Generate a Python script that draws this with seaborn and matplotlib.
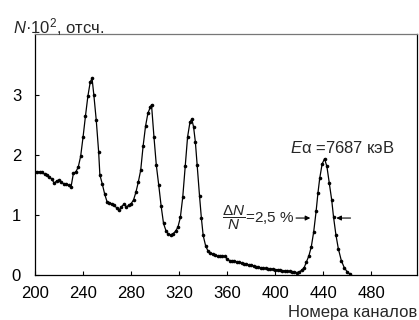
import matplotlib
matplotlib.use("Agg")
import matplotlib.pyplot as plt
import seaborn as sns
import pandas as pd

channels = [200, 202, 204, 206, 208, 210, 212, 214, 216, 218, 220, 222, 224, 226, 228, 230,
            232, 234, 236, 238, 240, 242, 244, 246, 247.5, 249, 251, 253, 254, 256, 258, 260,
            262, 264, 266, 268, 270, 272, 274, 276, 278, 280, 282, 284, 286, 288, 290, 292,
            294, 296, 297, 299, 301, 303, 305, 307, 309, 311, 313, 315, 317, 319, 321, 323,
            325, 327, 329, 330.5, 332, 333.5, 335, 337, 338.5, 340, 342, 344, 346, 348, 350,
            352, 354, 356, 358, 360, 362, 364, 366, 368, 370, 372, 374, 376, 378, 380, 382,
            384, 386, 388, 390, 392, 394, 396, 398, 400, 402, 404, 406, 408, 410, 412, 414,
            416, 418, 420, 422, 424, 426, 428, 430, 432, 434, 435.5, 437, 439, 441, 443, 445,
            447, 448.5, 450.5, 452.5, 455, 457.5, 460, 462]
counts = [1.72, 1.72, 1.72, 1.71, 1.68, 1.66, 1.64, 1.60, 1.53, 1.57, 1.58, 1.55, 1.52, 1.51,
          1.50, 1.47, 1.70, 1.72, 1.80, 1.98, 2.30, 2.65, 2.98, 3.22, 3.28, 3.00, 2.58, 2.05,
          1.67, 1.52, 1.35, 1.22, 1.20, 1.19, 1.16, 1.12, 1.08, 1.14, 1.18, 1.14, 1.16, 1.19,
          1.25, 1.38, 1.55, 1.75, 2.15, 2.48, 2.70, 2.80, 2.84, 2.31, 1.83, 1.50, 1.15, 0.86,
          0.74, 0.68, 0.67, 0.69, 0.73, 0.80, 0.96, 1.30, 1.81, 2.30, 2.55, 2.60, 2.47, 2.22,
          1.83, 1.31, 0.95, 0.66, 0.49, 0.40, 0.36, 0.35, 0.33, 0.31, 0.31, 0.32, 0.31, 0.27,
          0.24, 0.23, 0.23, 0.22, 0.21, 0.20, 0.19, 0.18, 0.17, 0.17, 0.15, 0.13, 0.13, 0.12,
          0.11, 0.11, 0.10, 0.10, 0.10, 0.09, 0.09, 0.08, 0.07, 0.07, 0.06, 0.06, 0.05, 0.05,
          0.04, 0.05, 0.08, 0.12, 0.22, 0.32, 0.47, 0.72, 1.06, 1.36, 1.61, 1.85, 1.94, 1.81,
          1.53, 1.25, 0.97, 0.67, 0.44, 0.24, 0.12, 0.05, 0.02]
x_ticks = [200, 240, 280, 320, 360, 400, 440, 480]
y_ticks = [0, 1, 2, 3]

sns.set_theme(style="ticks")
plt.rcParams['font.family'] = ['Liberation Sans', 'DejaVu Sans']
plt.rcParams['mathtext.fontset'] = 'custom'
plt.rcParams['mathtext.rm'] = 'Liberation Sans'
plt.rcParams['mathtext.it'] = 'Liberation Sans:italic'

df = pd.DataFrame({"ch": channels, "n": counts})

fig = plt.figure(figsize=(4.19, 3.2), dpi=100)
ax = fig.add_axes([35/419, 45/320, 382/419, 241/320])
sns.lineplot(data=df, x="ch", y="n", ax=ax, color="black", linewidth=0.9,
             marker="o", markersize=2.6, markeredgewidth=0, markerfacecolor="black")

ax.set_xlim(200, 518)
ax.set_ylim(0, 4.02)
ax.set_xticks(x_ticks)
ax.set_yticks(y_ticks)
ax.set_xlabel("")
ax.set_ylabel("")
ax.tick_params(direction="in", length=3, width=0.8, labelsize=12, colors="black", pad=8)
ax.tick_params(axis="y", pad=10)
for s in ["left", "bottom", "right"]:
    ax.spines[s].set_color("black")
    ax.spines[s].set_linewidth(0.9)
ax.spines["top"].set_color("#777777")
ax.spines["top"].set_linewidth(0.9)

fig.text(13/419, 1 - 27/320, r"$N$·10$^2$, отсч.", fontsize=12, ha="left", va="center")
fig.text(417/419, 1 - 313/320, "Номера каналов", fontsize=12, ha="right", va="center")

ax.text(412.5, 2.12, r"$E$α =7687 кэВ", fontsize=12, ha="left", va="center")
ax.text(355.5, 0.95, r"$\dfrac{\mathit{\Delta N}}{N}$=2,5 %", fontsize=11, ha="left", va="center")
ax.annotate("", xy=(431.5, 0.95), xytext=(415, 0.95),
            arrowprops=dict(arrowstyle="-|>", color="black", lw=0.8, mutation_scale=7))
ax.annotate("", xy=(448.5, 0.95), xytext=(465, 0.95),
            arrowprops=dict(arrowstyle="-|>", color="black", lw=0.8, mutation_scale=7))

fig.savefig("out.png", dpi=100)
